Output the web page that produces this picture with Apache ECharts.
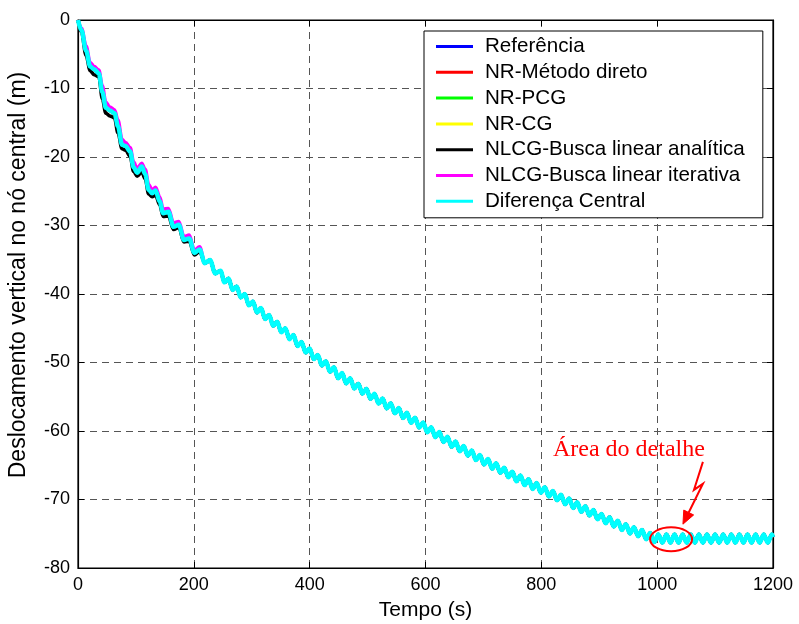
<!DOCTYPE html>
<html><head><meta charset="utf-8">
<script src="https://cdn.jsdelivr.net/npm/echarts@6/dist/echarts.min.js"></script>
<style>html,body{margin:0;padding:0;background:#fff}#c{width:799px;height:624px}</style>
</head><body><div id="c"></div>
<script>
// ---- data ----
const seriesNames = ['Referência','NR-Método direto','NR-PCG','NR-CG','NLCG-Busca linear analítica','NLCG-Busca linear iterativa','Diferença Central'];
const seriesColors = ['#0000ff','#ff0000','#00ff00','#ffff00','#000000','#ff00ff','#00ffff'];
const xTicks = [0,200,400,600,800,1000,1200];
const yTicks = [0,-10,-20,-30,-40,-50,-60,-70,-80];

// main response (reference / NR / central difference overlap)
const tempo = [0,6,14,21,28,36,42,48,55,63,69,76,82,90,96,102,110,116,122,128,134,141,147,156,165,174,183,192,201,210,219,228,237,246,
253,260,267,274,281,288,295,302,309,316,323,330,337,344,351,358,365,372,379,386,393,400,407,414,421,428,435,442,449,456,463,470,477,484,491,498,
505,512,519,526,533,540,547,554,561,568,575,582,589,596,603,610,617,624,631,638,645,652,659,666,673,680,687,694,701,708,715,722,729,736,743,750,
757,764,771,778,785,792,799,806,813,820,827,834,841,848,855,862,869,876,883,890,897,904,911,918,925,932,939,946,953,960,967,974,981,988,995,
1002,1009,1016,1023,1030,1037,1044,1051,1058,1065,1072,1079,1086,1093,1100,1107,1114,1121,1128,1135,1142,1149,1156,1163,1170,1177,1184,1191,1198,1200];
const deslocamento = [0,-1.5,-4.5,-6.8,-7.2,-7.8,-10.5,-12.8,-13.2,-13.6,-15.5,-18.2,-18.4,-19.2,-21.5,-22.3,-21.4,-22.5,-24.8,-25.3,-24.9,-26.5,-28.2,-28.0,-30.2,-29.9,-32.1,-31.9,-34.0,-33.5,-35.5,-35.05,-37.0,-36.6,
-38.3,-37.75,-39.4,-38.9,-40.5,-40.0,-41.65,-41.1,-42.7,-42.05,-43.65,-43.05,-44.65,-44.05,-45.6,-45.0,-46.6,-46.0,-47.6,-47.0,-48.55,-47.95,-49.5,-48.9,-50.45,-49.8,-51.35,-50.7,-52.3,-51.55,-53.05,-52.3,-53.8,-53.1,-54.55,-53.85,
-55.3,-54.55,-56.0,-55.25,-56.7,-55.95,-57.4,-56.65,-58.1,-57.35,-58.8,-58.05,-59.5,-58.75,-60.2,-59.45,-60.9,-60.15,-61.6,-60.85,-62.3,-61.55,-62.95,-62.2,-63.6,-62.85,-64.25,-63.5,-64.9,-64.1,-65.5,-64.7,-66.1,-65.35,-66.75,-65.95,
-67.35,-66.5,-67.9,-67.05,-68.45,-67.6,-69.0,-68.2,-69.55,-68.75,-70.1,-69.3,-70.7,-69.85,-71.25,-70.4,-71.8,-71.0,-72.35,-71.55,-72.9,-72.1,-73.45,-72.6,-73.95,-73.1,-74.45,-73.6,-74.95,-74.05,-75.35,-74.45,-75.8,-74.9,-76.2,
-75.1,-76.3,-75.1,-76.3,-75.1,-76.3,-75.1,-76.3,-75.1,-76.3,-75.1,-76.3,-75.1,-76.3,-75.1,-76.3,-75.1,-76.3,-75.1,-76.3,-75.1,-76.3,-75.1,-76.3,-75.1,-76.3,-75.1,-76.3,-75.1,-75.5];

// early part of the NLCG curves (they separate slightly at the start)
const nlcgInicioT = [0,6,14,21,28,36,42,48,55,63,69,76,82,90,96,102,110,116,122,128,134,141,147,156,165,174,183,192,201,210];
const nlcgAnaliticaV = [0,-1.8,-5.2,-7.4,-8.0,-8.3,-11.5,-13.6,-14.0,-14.3,-16.5,-18.8,-19.0,-19.9,-22.1,-22.8,-22.2,-23.2,-25.4,-25.8,-25.6,-27.0,-28.7,-28.6,-30.6,-30.3,-32.4,-32.3,-34.3,-33.8];
const nlcgIterativaV = [0,-1.2,-3.8,-6.2,-6.8,-7.3,-9.6,-12.0,-12.7,-13.1,-14.6,-17.4,-17.9,-18.6,-20.7,-21.7,-20.9,-21.8,-24.0,-24.8,-24.4,-25.8,-27.6,-27.5,-29.6,-29.4,-31.6,-31.4,-33.6,-33.1];

// annotation
const annotText = 'Área do detalhe';

// ---- build ----
function zip(t, v){ const out=[]; for(let i=0;i<Math.min(t.length,v.length);i++) out.push([t[i],v[i]]); return out; }
const mainData = zip(tempo, deslocamento);
function withTail(t, v){
  const head = zip(t, v); const last = t[t.length-1];
  return head.concat(mainData.filter(p => p[0] > last));
}
const dataSets = [mainData, mainData, mainData, mainData,
  withTail(nlcgInicioT, nlcgAnaliticaV), withTail(nlcgInicioT, nlcgIterativaV), mainData];

const FONT = 'Liberation Sans, Arial, sans-serif';
const chart = echarts.init(document.getElementById('c'), null, {renderer:'canvas'});
const gridLine = {show:true, lineStyle:{color:'#555', width:1, type:[7,5]}};
const option = {
  animation:false,
  backgroundColor:'#fff',
  grid:{left:78, right:26, top:20, bottom:56, show:true, borderColor:'#000', borderWidth:1.2, backgroundColor:'transparent',
        containLabel:false, outerBoundsMode:'none'},
  legend:{
    orient:'vertical', left:424, top:31, data: seriesNames.map(n=>({name:n, icon:'rect'})),
    itemWidth:37, itemHeight:3, itemGap:4.8,
    backgroundColor:'#fff', borderColor:'#000', borderWidth:1, borderRadius:0,
    padding:[5,18,6,12],
    textStyle:{fontFamily:FONT, fontSize:20.6, color:'#000', padding:[0,0,0,7], lineHeight:20},
    selectedMode:false
  },
  xAxis:[{
    type:'value', min:0, max:1200, interval:200, position:'bottom',
    name:'Tempo (s)', nameLocation:'middle', nameGap:32,
    nameTextStyle:{fontFamily:FONT, fontSize:21, color:'#000'},
    axisLine:{show:true, onZero:false, lineStyle:{color:'#000', width:1.2}},
    axisTick:{show:true, inside:true, length:6, lineStyle:{color:'#000'}},
    axisLabel:{fontFamily:FONT, fontSize:18, color:'#000', margin:8, formatter: v => String(v)},
    splitLine:gridLine
  },{
    type:'value', min:0, max:1200, interval:200, position:'top',
    axisLine:{show:true, onZero:false, lineStyle:{color:'#000', width:1.2}},
    axisTick:{show:true, inside:true, length:6, lineStyle:{color:'#000'}},
    axisLabel:{show:false}, splitLine:{show:false}
  }],
  yAxis:[{
    type:'value', min:-80, max:0, interval:10, position:'left',
    name:'Deslocamento vertical no nó central (m)', nameLocation:'middle', nameGap:48, nameRotate:90,
    nameTextStyle:{fontFamily:FONT, fontSize:23, color:'#000', padding:[0,0,0,38]},
    axisLine:{show:true, onZero:false, lineStyle:{color:'#000', width:1.2}},
    axisTick:{show:true, inside:true, length:6, lineStyle:{color:'#000'}},
    axisLabel:{fontFamily:FONT, fontSize:18, color:'#000', margin:8, formatter: v => String(v)},
    splitLine:gridLine
  },{
    type:'value', min:-80, max:0, interval:10, position:'right',
    axisLine:{show:true, onZero:false, lineStyle:{color:'#000', width:1.2}},
    axisTick:{show:true, inside:true, length:6, lineStyle:{color:'#000'}},
    axisLabel:{show:false}, splitLine:{show:false}
  }],
  series: seriesNames.map((n,i)=>({
    name:n, type:'line', xAxisIndex:0, yAxisIndex:0, data:dataSets[i],
    showSymbol:false, symbol:'none', smooth:0.35, smoothMonotone:'x',
    lineStyle:{color:seriesColors[i], width: i===6 ? 4.5 : 3.5},
    itemStyle:{color:seriesColors[i]}, z: 2+i
  }))
};
chart.setOption(option);

// annotation anchored to data coordinates
const txt = chart.convertToPixel({gridIndex:0},[953,-62.9]);
const ell = chart.convertToPixel({gridIndex:0},[1024,-75.8]);
const a0 = chart.convertToPixel({gridIndex:0},[1079,-64.5]);
const a1 = chart.convertToPixel({gridIndex:0},[1063.5,-68.6]);
const a2 = chart.convertToPixel({gridIndex:0},[1079,-67.7]);
const a3 = chart.convertToPixel({gridIndex:0},[1044.5,-73.6]);
const dx = a3[0]-a2[0], dy = a3[1]-a2[1], L = Math.hypot(dx,dy);
const ux = dx/L, uy = dy/L, hl = 13, hw = 5.5;
const base = [a3[0]-ux*hl, a3[1]-uy*hl];
chart.setOption({graphic:[
  {type:'text', left:txt[0]-77, top:txt[1]-13, z:100,
   style:{text:annotText, fill:'#ff0000', font:'24px "Liberation Serif", "Times New Roman", serif'}},
  {type:'ellipse', shape:{cx:ell[0], cy:ell[1], rx:21, ry:12}, z:100,
   style:{fill:'none', stroke:'#ff0000', lineWidth:2}},
  {type:'polyline', shape:{points:[a0,a1,a2,base]}, z:100,
   style:{fill:'none', stroke:'#ff0000', lineWidth:2}},
  {type:'polygon', shape:{points:[a3,[base[0]-uy*hw, base[1]+ux*hw],[base[0]+uy*hw, base[1]-ux*hw]]}, z:100,
   style:{fill:'#ff0000', stroke:'#ff0000', lineWidth:1}}
]});
</script></body></html>
